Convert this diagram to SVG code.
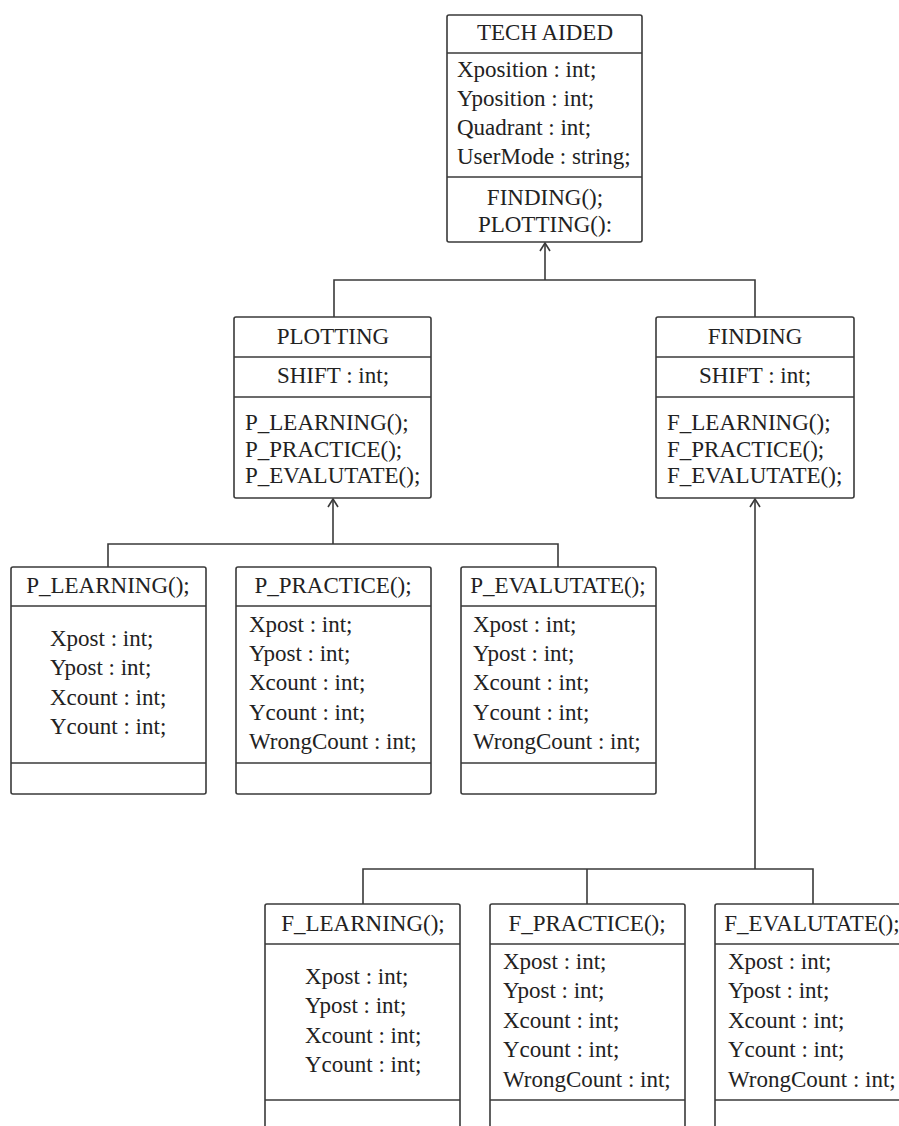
<svg xmlns="http://www.w3.org/2000/svg" width="899" height="1126" viewBox="0 0 899 1126">
<defs>
<style>
.box{fill:#fff;stroke:#3a3a3a;stroke-width:1.6}
.div{stroke:#3a3a3a;stroke-width:1.6}
.con{fill:none;stroke:#3a3a3a;stroke-width:1.6}
text{font-family:"Liberation Serif","Times New Roman",serif;font-size:23px;fill:#222}
.c{text-anchor:middle}
</style>
<marker id="arr" viewBox="0 0 10 12" refX="9" refY="6" markerWidth="10" markerHeight="12" markerUnits="userSpaceOnUse" orient="auto">
<path d="M1,1 L9,6 L1,11" fill="none" stroke="#3a3a3a" stroke-width="1.6"/>
</marker>
</defs>
<rect width="899" height="1126" fill="#fff"/>

<g id="connectors">
<path class="con" d="M545,280 L545,243" marker-end="url(#arr)"/>
<path class="con" d="M334,317 L334,280 L755,280 L755,317"/>
<path class="con" d="M333,544 L333,499" marker-end="url(#arr)"/>
<path class="con" d="M108,567 L108,544 L558,544 L558,567"/>
<path class="con" d="M755,869 L755,499" marker-end="url(#arr)"/>
<path class="con" d="M363,904 L363,869 L813,869 L813,904"/>
<path class="con" d="M587,869 L587,904"/>
</g>

<g id="tech-aided">
<rect class="box" x="447" y="15" width="195" height="227" rx="2"/>
<line class="div" x1="447" y1="53" x2="642" y2="53"/>
<line class="div" x1="447" y1="177" x2="642" y2="177"/>
<text class="c" x="545" y="40">TECH AIDED</text>
<text x="457" y="77">Xposition : int;</text>
<text x="457" y="106">Yposition : int;</text>
<text x="457" y="135">Quadrant : int;</text>
<text x="457" y="164">UserMode : string;</text>
<text class="c" x="545" y="205">FINDING();</text>
<text class="c" x="545" y="232">PLOTTING():</text>
</g>

<g id="plotting">
<rect class="box" x="234" y="317" width="197" height="181" rx="2"/>
<line class="div" x1="234" y1="357" x2="431" y2="357"/>
<line class="div" x1="234" y1="397" x2="431" y2="397"/>
<text class="c" x="333" y="344">PLOTTING</text>
<text class="c" x="333" y="383">SHIFT : int;</text>
<text x="245" y="430">P_LEARNING();</text>
<text x="245" y="457">P_PRACTICE();</text>
<text x="245" y="483">P_EVALUTATE();</text>
</g>

<g id="finding">
<rect class="box" x="656" y="317" width="198" height="181" rx="2"/>
<line class="div" x1="656" y1="357" x2="854" y2="357"/>
<line class="div" x1="656" y1="397" x2="854" y2="397"/>
<text class="c" x="755" y="344">FINDING</text>
<text class="c" x="755" y="383">SHIFT : int;</text>
<text x="667" y="430">F_LEARNING();</text>
<text x="667" y="457">F_PRACTICE();</text>
<text x="667" y="483">F_EVALUTATE();</text>
</g>

<g id="p-learning">
<rect class="box" x="11" y="567" width="195" height="227" rx="2"/>
<line class="div" x1="11" y1="606" x2="206" y2="606"/>
<line class="div" x1="11" y1="763" x2="206" y2="763"/>
<text class="c" x="108" y="593">P_LEARNING();</text>
<text x="50" y="646">Xpost : int;</text>
<text x="50" y="675">Ypost : int;</text>
<text x="50" y="705">Xcount : int;</text>
<text x="50" y="734">Ycount : int;</text>
</g>

<g id="p-practice">
<rect class="box" x="236" y="567" width="195" height="227" rx="2"/>
<line class="div" x1="236" y1="606" x2="431" y2="606"/>
<line class="div" x1="236" y1="763" x2="431" y2="763"/>
<text class="c" x="333" y="593">P_PRACTICE();</text>
<text x="249" y="632">Xpost : int;</text>
<text x="249" y="661">Ypost : int;</text>
<text x="249" y="690">Xcount : int;</text>
<text x="249" y="720">Ycount : int;</text>
<text x="249" y="749">WrongCount : int;</text>
</g>

<g id="p-evalutate">
<rect class="box" x="461" y="567" width="195" height="227" rx="2"/>
<line class="div" x1="461" y1="606" x2="656" y2="606"/>
<line class="div" x1="461" y1="763" x2="656" y2="763"/>
<text class="c" x="558" y="593">P_EVALUTATE();</text>
<text x="473" y="632">Xpost : int;</text>
<text x="473" y="661">Ypost : int;</text>
<text x="473" y="690">Xcount : int;</text>
<text x="473" y="720">Ycount : int;</text>
<text x="473" y="749">WrongCount : int;</text>
</g>

<g id="f-learning">
<rect class="box" x="265" y="904" width="195" height="240" rx="2"/>
<line class="div" x1="265" y1="944" x2="460" y2="944"/>
<line class="div" x1="265" y1="1100" x2="460" y2="1100"/>
<text class="c" x="363" y="931">F_LEARNING();</text>
<text x="305" y="984">Xpost : int;</text>
<text x="305" y="1013">Ypost : int;</text>
<text x="305" y="1043">Xcount : int;</text>
<text x="305" y="1072">Ycount : int;</text>
</g>

<g id="f-practice">
<rect class="box" x="490" y="904" width="195" height="240" rx="2"/>
<line class="div" x1="490" y1="944" x2="685" y2="944"/>
<line class="div" x1="490" y1="1100" x2="685" y2="1100"/>
<text class="c" x="587" y="931">F_PRACTICE();</text>
<text x="503" y="969">Xpost : int;</text>
<text x="503" y="998">Ypost : int;</text>
<text x="503" y="1028">Xcount : int;</text>
<text x="503" y="1057">Ycount : int;</text>
<text x="503" y="1087">WrongCount : int;</text>
</g>

<g id="f-evalutate">
<rect class="box" x="715" y="904" width="195" height="240" rx="2"/>
<line class="div" x1="715" y1="944" x2="910" y2="944"/>
<line class="div" x1="715" y1="1100" x2="910" y2="1100"/>
<text class="c" x="812" y="931">F_EVALUTATE();</text>
<text x="728" y="969">Xpost : int;</text>
<text x="728" y="998">Ypost : int;</text>
<text x="728" y="1028">Xcount : int;</text>
<text x="728" y="1057">Ycount : int;</text>
<text x="728" y="1087">WrongCount : int;</text>
</g>
</svg>
